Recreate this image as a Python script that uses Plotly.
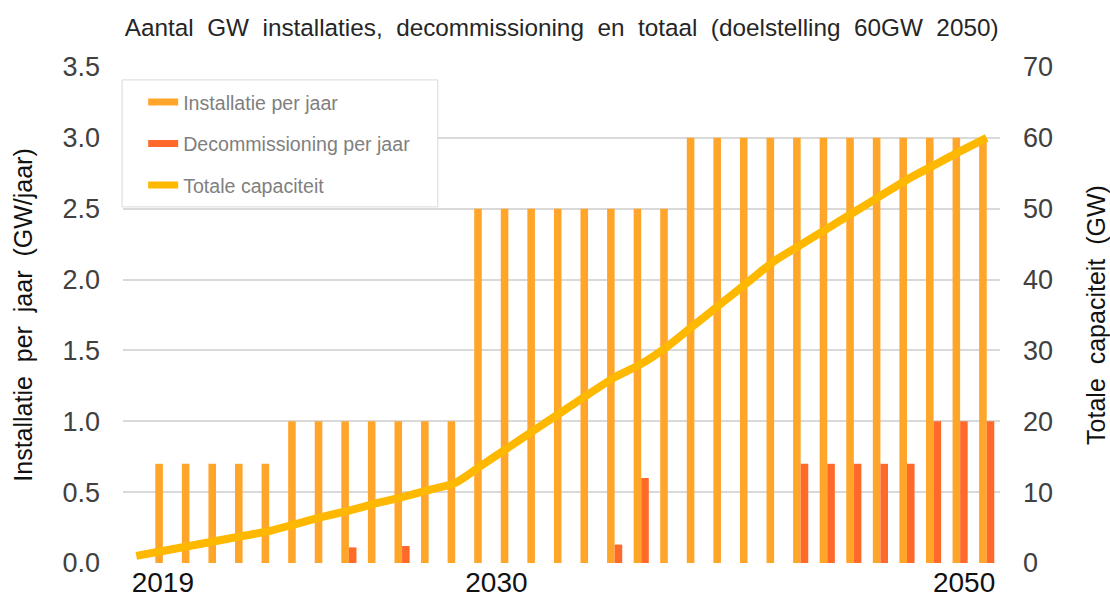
import plotly.graph_objects as go

# ---- data ----
years = list(range(2018, 2051))

installatie = [0.0,
               0.7, 0.7, 0.7, 0.7, 0.7,
               1.0, 1.0, 1.0, 1.0, 1.0, 1.0, 1.0,
               2.5, 2.5, 2.5, 2.5, 2.5, 2.5, 2.5, 2.5,
               3.0, 3.0, 3.0, 3.0, 3.0, 3.0, 3.0, 3.0, 3.0, 3.0, 3.0, 3.0]

decommissioning = [0, 0, 0, 0, 0, 0, 0, 0, 0.11, 0, 0.12, 0, 0, 0, 0, 0, 0, 0,
                   0.13, 0.6, 0, 0, 0, 0, 0, 0.7, 0.7, 0.7, 0.7, 0.7, 1.0, 1.0, 1.0]

totale_capaciteit = [1.0, 1.7, 2.4, 3.1, 3.8, 4.5, 5.5, 6.5, 7.4, 8.4, 9.3, 10.3,
                     11.3, 13.8, 16.3, 18.8, 21.3, 23.8, 26.2, 28.1, 30.6, 33.6,
                     36.6, 39.6, 42.6, 44.9, 47.2, 49.5, 51.8, 54.1, 56.1, 58.1, 60.0]

x_tick_labels = ["2019", "2030", "2050"]
series_names = ["Installatie per jaar", "Decommissioning per jaar", "Totale capaciteit"]

# ---- styles ----
C_INST = "#FFA52A"
C_DEC = "#FF6A2B"
C_TOT = "#FFB800"
FONT = "Liberation Sans, Arial, sans-serif"
TXT = "#404040"
GRID = "#D9D9D9"

fig = go.Figure()

fig.add_trace(go.Bar(x=years, y=installatie, name=series_names[0],
                     marker=dict(color=C_INST, line=dict(width=0)),
                     showlegend=False))
fig.add_trace(go.Bar(x=years, y=decommissioning, name=series_names[1],
                     marker=dict(color=C_DEC, line=dict(width=0)),
                     showlegend=False))
fig.add_trace(go.Scatter(x=years, y=totale_capaciteit, name=series_names[2],
                         yaxis="y2", mode="lines",
                         line=dict(color=C_TOT, width=8, shape="spline", smoothing=0.7),
                         showlegend=False))

# legend entries (legend-only traces)
for i, (nm, col) in enumerate(zip(series_names, [C_INST, C_DEC, C_TOT])):
    fig.add_trace(go.Scatter(x=[None], y=[None], name=nm, mode="lines",
                             line=dict(color=col, width=7),
                             legendgroup=f"g{i}", showlegend=True))

sp = "\u00a0 "
title_text = sp.join(["Aantal", "GW", "installaties,", "decommissioning", "en",
                      "totaal", "(doelstelling", "60GW", "2050)"])

fig.update_layout(
    width=1110, height=604,
    margin=dict(l=123, r=110, t=67, b=41, autoexpand=False),
    paper_bgcolor="white", plot_bgcolor="white",
    font=dict(family=FONT, color=TXT),
    title=dict(text=title_text, x=0.506, xanchor="center", y=0.955, yanchor="middle",
               font=dict(size=24.3, color="#262626", family=FONT)),
    barmode="group", bargap=0.43, bargroupgap=0,
    xaxis=dict(range=[2017.5, 2050.5], automargin=False,
               tickvals=[2019, 2031.55, 2049.15], ticktext=x_tick_labels,
               tickfont=dict(size=28, color="#111111"),
               showgrid=False, zeroline=False, showline=False, ticks="",
               ticklabelstandoff=0),
    yaxis=dict(range=[0, 3.5], dtick=0.5, tickformat=".1f", automargin=False,
               tickfont=dict(size=27, color=TXT),
               showgrid=True, gridcolor=GRID, gridwidth=1.5,
               zeroline=False, showline=False, ticks="",
               ticklabelstandoff=22,
               title=dict(text=sp.join(["Installatie", "per", "jaar", "(GW/jaar)"]),
                          font=dict(size=25, color="#111111"), standoff=22)),
    yaxis2=dict(range=[0, 70], dtick=10, overlaying="y", side="right", automargin=False,
                tickfont=dict(size=27, color=TXT),
                showgrid=False, zeroline=False, showline=False, ticks="",
                ticklabelstandoff=22,
                title=dict(text=sp.join(["Totale", "capaciteit", "(GW)"]),
                           font=dict(size=25, color="#111111"), standoff=35)),
    legend=dict(x=0.023, y=0.968, xanchor="left", yanchor="top",
                bgcolor="rgba(0,0,0,0)", borderwidth=0,
                font=dict(size=19.6, color="#7F7F7F", family=FONT),
                tracegroupgap=13, itemwidth=30),
    shapes=[dict(type="rect", xref="paper", yref="paper",
                 x0=-0.001, x1=0.359, y0=0.718, y1=0.974,
                 fillcolor="white", line=dict(color=GRID, width=1), layer="above")],
)

fig.write_html("out.html")
